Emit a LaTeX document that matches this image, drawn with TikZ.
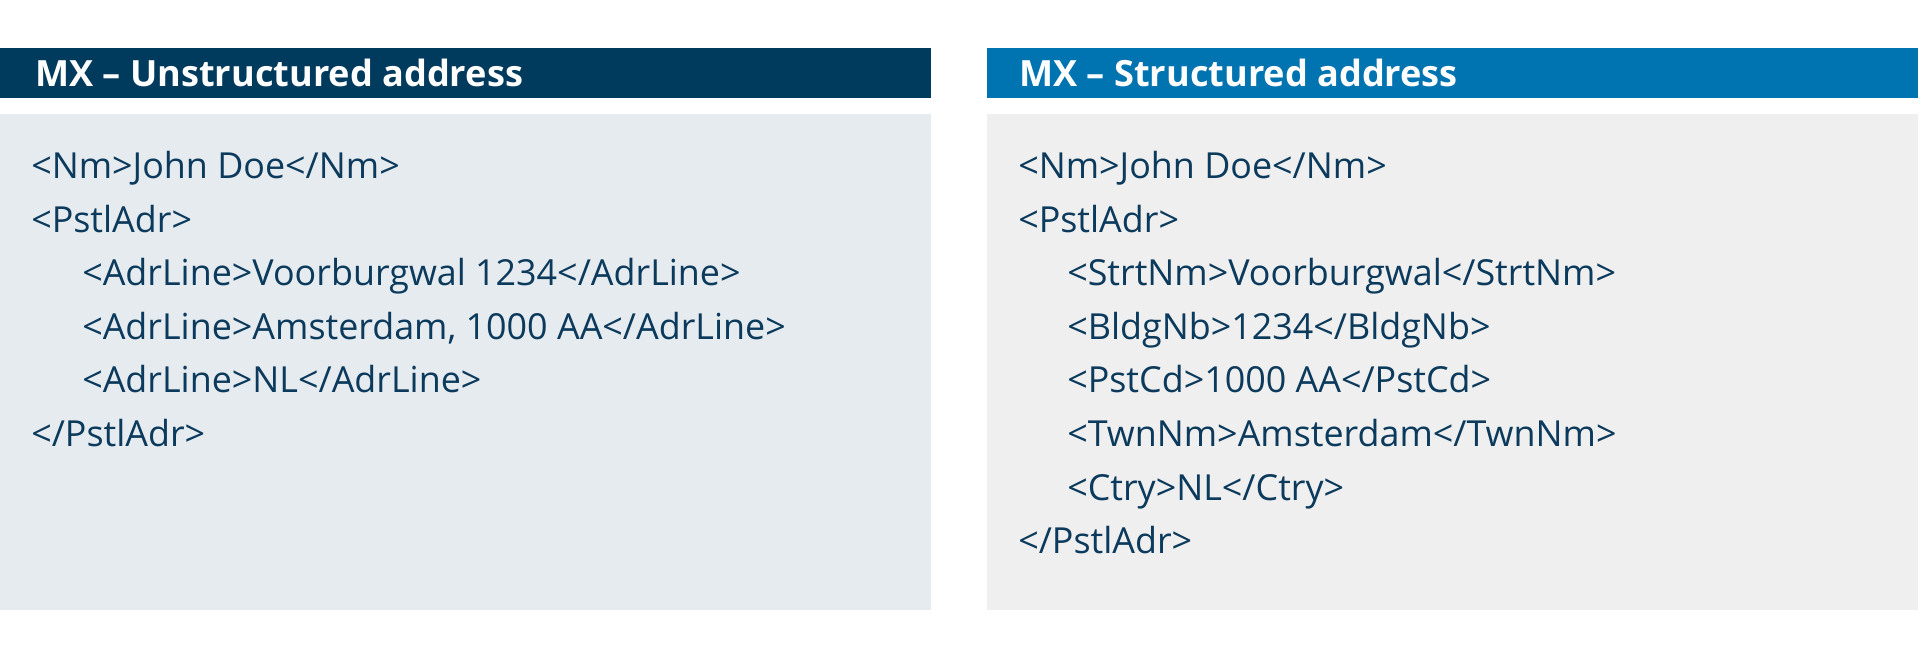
\documentclass[tikz,border=0pt]{standalone}
\usepackage{fontspec}
\setmainfont{Open Sans}
\definecolor{navy}{HTML}{003A5D}
\definecolor{blue}{HTML}{0073B1}
\definecolor{lbody}{HTML}{E6EBEF}
\definecolor{rbody}{HTML}{EFEFEF}
\definecolor{txt}{HTML}{0B3A5C}
\begin{document}
\begin{tikzpicture}[x=0.75pt,y=-0.75pt,
  hdrtext/.style={anchor=base west,inner sep=0pt,text=white,font=\fontsize{27.1}{32}\selectfont\bfseries},
  code/.style={anchor=base west,inner sep=0pt,text=txt,font=\fontsize{26.9}{32}\selectfont}]
\useasboundingbox (0,0) rectangle (1920,655);
\fill[white] (0,0) rectangle (1920,655);
% boxes
\fill[navy] (0,48) rectangle (931,98);
\fill[blue] (987,48) rectangle (1918,98);
\fill[lbody] (0,114) rectangle (931,610);
\fill[rbody] (987,114) rectangle (1918,610);
\node[hdrtext] (h1) at (35,87) {MX – Unstructured address};
\node[hdrtext] (h2) at (1019,87) {MX – Structured address};
% left
\def\s{53.6}
\node[code] (l1) at (31,178.5) {<Nm>John Doe</Nm>};
\node[code] (l2) at (31,178.5+\s) {<PstlAdr>};
\node[code] (l3) at (82,178.5+2*\s) {<AdrLine>Voorburgwal 1234</AdrLine>};
\node[code] (l4) at (82,178.5+3*\s) {<AdrLine>Amsterdam, 1000 AA</AdrLine>};
\node[code] (l5) at (82,178.5+4*\s) {<AdrLine>NL</AdrLine>};
\node[code] (l6) at (31,178.5+5*\s) {</PstlAdr>};
% right
\node[code] (r1) at (1018,178.5) {<Nm>John Doe</Nm>};
\node[code] (r2) at (1018,178.5+\s) {<PstlAdr>};
\node[code] (r3) at (1067,178.5+2*\s) {<StrtNm>Voorburgwal</StrtNm>};
\node[code] (r4) at (1067,178.5+3*\s) {<BldgNb>1234</BldgNb>};
\node[code] (r5) at (1067,178.5+4*\s) {<PstCd>1000 AA</PstCd>};
\node[code] (r6) at (1067,178.5+5*\s) {<TwnNm>Amsterdam</TwnNm>};
\node[code] (r7) at (1067,178.5+6*\s) {<Ctry>NL</Ctry>};
\node[code] (r8) at (1018,178.5+7*\s) {</PstlAdr>};
\end{tikzpicture}
\end{document}
